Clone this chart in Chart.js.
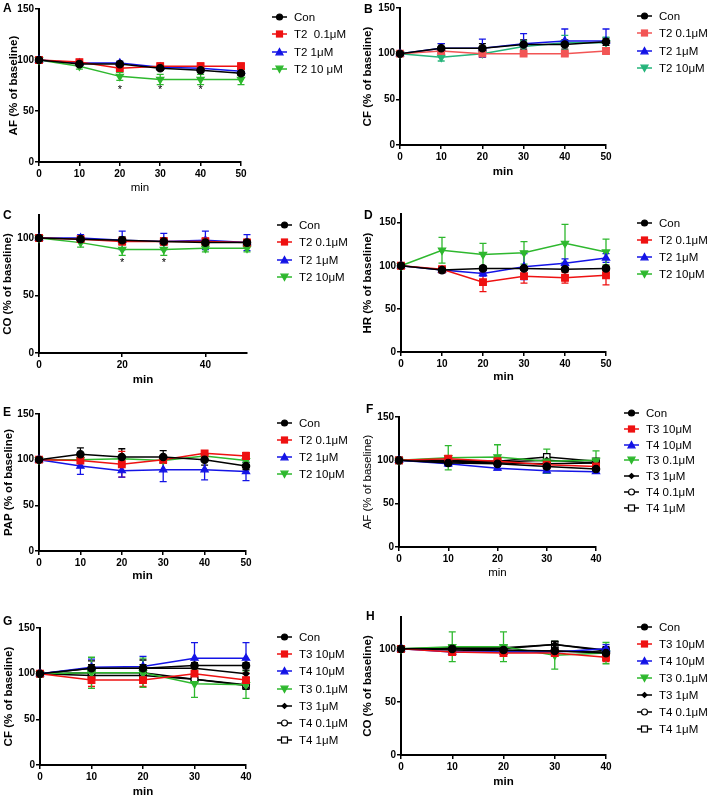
<!DOCTYPE html>
<html>
<head>
<meta charset="utf-8">
<script src="https://cdn.jsdelivr.net/npm/chart.js@4"></script>
<style>
  body { margin: 0; background: #fff; width: 708px; height: 797px; position: relative; overflow: hidden;
         font-family: "Liberation Sans", Arial, sans-serif; }
  canvas { position: absolute; }
  .tag { position: absolute; font-weight: bold; font-size: 12px; line-height: 12px; }
  .row { position: absolute; display: flex; align-items: center; height: 14px; font-size: 11.5px; white-space: pre; }
  .row svg { margin-right: 7px; }
</style>
</head>
<body>
<script>
// time points (min)
const minutes50 = [0, 10, 20, 30, 40, 50];
const minutes40 = [0, 10, 20, 30, 40];

// legend labels
const labelsT2a = ['Con', 'T2  0.1μM', 'T2 1μM', 'T2 10 μM'];
const labelsT2 = ['Con', 'T2 0.1μM', 'T2 1μM', 'T2 10μM'];
const labelsT34 = ['Con', 'T3 10μM', 'T4 10μM', 'T3 0.1μM', 'T3 1μM', 'T4 0.1μM', 'T4 1μM'];

// A - AF, T2
const afCon = [100, 96, 96, 92, 90, 87];
const afCon_err = [0, 2, 2, 2, 1.5, 2];
const afT2_01 = [100, 98, 92, 94, 94, 94];
const afT2_01_err = [0, 2, 4, 3, 3, 3];
const afT2_1 = [100, 97, 97, 93, 92, 89];
const afT2_1_err = [0, 2, 2, 2, 2, 2];
const afT2_10 = [100, 94, 84, 81, 81, 81];
const afT2_10_err = [0, 3, 4, 5, 5, 5];
const starsA = [20, 30, 40];

// B - CF, T2
const cfCon = [100, 106, 106, 110, 110, 113];
const cfCon_err = [0, 5, 5, 5, 5, 4];
const cfT2_01 = [100, 103, 100, 100, 100, 103];
const cfT2_01_err = [0, 2, 2, 2, 2, 3];
const cfT2_1 = [100, 106, 106, 111, 114, 114];
const cfT2_1_err = [0, 5, 10, 11, 13, 13];
const cfT2_10 = [100, 96, 100, 108, 112, 112];
const cfT2_10_err = [0, 4, 2, 6, 8, 6];

// C - CO, T2
const coCon = [100, 99, 98, 97, 96, 96];
const coCon_err = [0, 2, 3, 3, 2, 2];
const coT2_01 = [100, 99, 97, 97, 97, 96];
const coT2_01_err = [0, 2, 3, 3, 3, 3];
const coT2_1 = [100, 100, 98, 97, 98, 96];
const coT2_1_err = [0, 3, 8, 7, 8, 7];
const coT2_10 = [100, 96, 90, 90, 91, 91];
const coT2_10_err = [0, 4, 5, 5, 3, 3];
const starsC = [20, 30];

// D - HR, T2
const hrCon = [100, 95, 97, 97, 96, 97];
const hrCon_err = [0, 3, 2, 2, 2, 2];
const hrT2_01 = [100, 96, 81, 88, 86, 89];
const hrT2_01_err = [0, 3, 11, 8, 6, 11];
const hrT2_1 = [100, 95, 91, 99, 103, 109];
const hrT2_1_err = [0, 3, 3, 15, 5, 5];
const hrT2_10 = [100, 118, 113, 115, 126, 116];
const hrT2_10_err = [0, 15, 13, 13, 22, 15];

// E - PAP, T2
const papCon = [100, 106, 103, 103, 100, 93];
const papCon_err = [0, 7, 9, 7, 6, 4];
const papT2_01 = [100, 99, 95, 100, 107, 104];
const papT2_01_err = [0, 3, 14, 4, 3, 4];
const papT2_1 = [100, 93, 88, 89, 89, 87];
const papT2_1_err = [0, 9, 7, 13, 11, 10];
const papT2_10 = [100, 100, 101, 99, 104, 99];
const papT2_10_err = [0, 2, 2, 2, 2, 2];

// F - AF, T3/T4
const af2Con = [100, 97, 96, 93, 90];
const af2Con_err = [0, 3, 2, 3, 2];
const afT3_10 = [100, 102, 99, 95, 93];
const afT3_10_err = [0, 3, 2, 3, 3];
const afT4_10 = [100, 96, 91, 88, 87];
const afT4_10_err = [0, 3, 2, 3, 2];
const afT3_01 = [100, 103, 104, 99, 100];
const afT3_01_err = [0, 14, 14, 14, 11];
const afT3_1 = [100, 99, 98, 100, 97];
const afT3_1_err = [0, 3, 3, 3, 3];
const afT4_01 = [100, 98, 97, 96, 97];
const afT4_01_err = [0, 3, 3, 3, 3];
const afT4_1 = [100, 100, 99, 104, 99];
const afT4_1_err = [0, 3, 3, 3, 3];

// G - CF, T3/T4
const cf2Con = [100, 106, 106, 109, 109];
const cf2Con_err = [0, 8, 9, 3, 3];
const cfT3_10 = [100, 93, 93, 100, 93];
const cfT3_10_err = [0, 7, 7, 6, 8];
const cfT4_10 = [100, 107, 108, 117, 117];
const cfT4_10_err = [0, 9, 11, 17, 17];
const cfT3_01 = [100, 101, 101, 89, 88];
const cfT3_01_err = [0, 17, 16, 15, 15];
const cfT3_1 = [100, 106, 106, 106, 100];
const cfT3_1_err = [0, 4, 4, 4, 4];
const cfT4_01 = [100, 101, 101, 94, 88];
const cfT4_01_err = [0, 4, 4, 4, 4];
const cfT4_1 = [100, 98, 98, 94, 87];
const cfT4_1_err = [0, 4, 4, 4, 4];

// H - CO, T3/T4
const co2Con = [100, 100, 99, 98, 96];
const co2Con_err = [0, 2, 2, 2, 2];
const coT3_10 = [100, 97, 96, 96, 92];
const coT3_10_err = [0, 3, 3, 3, 4];
const coT4_10 = [100, 97, 97, 97, 100];
const coT4_10_err = [0, 3, 3, 3, 4];
const coT3_01 = [100, 102, 102, 94, 96];
const coT3_01_err = [0, 14, 14, 13, 10];
const coT3_1 = [100, 101, 101, 104, 99];
const coT3_1_err = [0, 3, 3, 3, 3];
const coT4_01 = [100, 99, 98, 98, 97];
const coT4_01_err = [0, 3, 3, 3, 3];
const coT4_1 = [100, 100, 100, 104, 98];
const coT4_1_err = [0, 3, 3, 3, 3];

// styles
const colorsT2 = ['#000000', '#ee1111', '#1414e6', '#2eb82e'];
const colorsB = ['#000000', '#f25555', '#1414e6', '#25b47a'];
const colorsT34 = ['#000000', '#ee1111', '#1414e6', '#2eb82e', '#000000', '#000000', '#000000'];
const markersT2 = ['circle', 'square', 'up', 'down'];
const markersT34 = ['circle', 'square', 'up', 'down', 'diamond', 'ocircle', 'osquare'];

const panels = [
  { tag: 'A', tagX: 3, tagY: 2, L: 39, T: 9, R: 241, B: 162, titleX: 14, minY: 188, yMax: 150, xs: minutes50, xStep: 10,
    yTitle: 'AF (% of baseline)', boldX: false, boldY: true, labels: labelsT2a, colors: colorsT2, markers: markersT2,
    values: [afCon, afT2_01, afT2_1, afT2_10], errors: [afCon_err, afT2_01_err, afT2_1_err, afT2_10_err],
    stars: starsA, starY: 71, legX: 272, legY: 17, legGap: 17.3 },
  { tag: 'B', tagX: 364, tagY: 3, L: 400, T: 8, R: 606, B: 145, titleX: 368, minY: 172, yMax: 150, xs: minutes50, xStep: 10,
    yTitle: 'CF (% of baseline)', boldX: true, boldY: true, labels: labelsT2, colors: colorsB, markers: markersT2,
    values: [cfCon, cfT2_01, cfT2_1, cfT2_10], errors: [cfCon_err, cfT2_01_err, cfT2_1_err, cfT2_10_err],
    stars: [], starY: 0, legX: 637, legY: 16, legGap: 17.3 },
  { tag: 'C', tagX: 3, tagY: 209, L: 39, T: 215, R: 247, B: 353, titleX: 8, minY: 380, yMax: 120, xs: minutes50, xStep: 20,
    yTitle: 'CO (% of baseline)', boldX: true, boldY: true, labels: labelsT2, colors: colorsT2, markers: markersT2,
    values: [coCon, coT2_01, coT2_1, coT2_10], errors: [coCon_err, coT2_01_err, coT2_1_err, coT2_10_err],
    stars: starsC, starY: 78, legX: 277, legY: 225, legGap: 17.3 },
  { tag: 'D', tagX: 364, tagY: 209, L: 401, T: 214, R: 606, B: 352, titleX: 368, minY: 377, yMax: 160, xs: minutes50, xStep: 10,
    yTitle: 'HR (% of baseline)', boldX: true, boldY: true, labels: labelsT2, colors: colorsT2, markers: markersT2,
    values: [hrCon, hrT2_01, hrT2_1, hrT2_10], errors: [hrCon_err, hrT2_01_err, hrT2_1_err, hrT2_10_err],
    stars: [], starY: 0, legX: 637, legY: 223, legGap: 17 },
  { tag: 'E', tagX: 3, tagY: 406, L: 39, T: 414, R: 246, B: 551, titleX: 9, minY: 576, yMax: 150, xs: minutes50, xStep: 10,
    yTitle: 'PAP (% of baseline)', boldX: true, boldY: true, labels: labelsT2, colors: colorsT2, markers: markersT2,
    values: [papCon, papT2_01, papT2_1, papT2_10], errors: [papCon_err, papT2_01_err, papT2_1_err, papT2_10_err],
    stars: [], starY: 0, legX: 277, legY: 423, legGap: 17 },
  { tag: 'F', tagX: 366, tagY: 403, L: 399, T: 417, R: 596, B: 547, titleX: 368, minY: 573, yMax: 150, xs: minutes40, xStep: 10,
    yTitle: 'AF (% of baseline)', boldX: false, boldY: false, labels: labelsT34, colors: colorsT34, markers: markersT34,
    values: [af2Con, afT3_10, afT4_10, afT3_01, afT3_1, afT4_01, afT4_1],
    errors: [af2Con_err, afT3_10_err, afT4_10_err, afT3_01_err, afT3_1_err, afT4_01_err, afT4_1_err],
    stars: [], starY: 0, legX: 624, legY: 413, legGap: 15.8 },
  { tag: 'G', tagX: 3, tagY: 615, L: 40, T: 628, R: 246, B: 765, titleX: 9, minY: 792, yMax: 150, xs: minutes40, xStep: 10,
    yTitle: 'CF (% of baseline)', boldX: true, boldY: true, labels: labelsT34, colors: colorsT34, markers: markersT34,
    values: [cf2Con, cfT3_10, cfT4_10, cfT3_01, cfT3_1, cfT4_01, cfT4_1],
    errors: [cf2Con_err, cfT3_10_err, cfT4_10_err, cfT3_01_err, cfT3_1_err, cfT4_01_err, cfT4_1_err],
    stars: [], starY: 0, legX: 277, legY: 637, legGap: 17.2 },
  { tag: 'H', tagX: 366, tagY: 610, L: 401, T: 617, R: 606, B: 755, titleX: 368, minY: 782, yMax: 130, xs: minutes40, xStep: 10,
    yTitle: 'CO (% of baseline)', boldX: true, boldY: true, labels: labelsT34, colors: colorsT34, markers: markersT34,
    values: [co2Con, coT3_10, coT4_10, coT3_01, coT3_1, coT4_01, coT4_1],
    errors: [co2Con_err, coT3_10_err, coT4_10_err, coT3_01_err, coT3_1_err, coT4_01_err, coT4_1_err],
    stars: [], starY: 0, legX: 637, legY: 627, legGap: 17 }
];

Chart.defaults.font.family = '"Liberation Sans", Arial, sans-serif';
Chart.defaults.color = '#000';

// vertical error bars, drawn from the y scale
const errorBars = {
  id: 'errorBars',
  beforeDatasetsDraw(chart) {
    const ctx = chart.ctx, ys = chart.scales.y;
    chart.data.datasets.forEach((ds, i) => {
      const meta = chart.getDatasetMeta(i);
      ctx.save();
      ctx.strokeStyle = ds.borderColor;
      ctx.lineWidth = 1.3;
      meta.data.forEach((pt, j) => {
        const e = ds.errors[j];
        if (!e) return;
        const v = ds.data[j].y;
        const y1 = ys.getPixelForValue(v + e), y2 = ys.getPixelForValue(v - e);
        ctx.beginPath();
        ctx.moveTo(pt.x, y1); ctx.lineTo(pt.x, y2);
        ctx.moveTo(pt.x - 3.5, y1); ctx.lineTo(pt.x + 3.5, y1);
        ctx.moveTo(pt.x - 3.5, y2); ctx.lineTo(pt.x + 3.5, y2);
        ctx.stroke();
      });
      ctx.restore();
    });
  }
};

const starMarks = {
  id: 'starMarks',
  afterDatasetsDraw(chart, args, opts) {
    const ctx = chart.ctx;
    ctx.save();
    ctx.font = '11px "Liberation Sans", Arial';
    ctx.fillStyle = '#000';
    ctx.textAlign = 'center';
    ctx.textBaseline = 'middle';
    opts.xs.forEach(x => ctx.fillText('*', chart.scales.x.getPixelForValue(x), chart.scales.y.getPixelForValue(opts.y)));
    ctx.restore();
  }
};

function markerOpts(m, color) {
  switch (m) {
    case 'circle': return { pointStyle: 'circle', pointRadius: 3.7, pointBackgroundColor: color };
    case 'square': return { pointStyle: 'rect', pointRadius: 4.7, pointBackgroundColor: color };
    case 'up': return { pointStyle: 'triangle', pointRadius: 4.2, pointBackgroundColor: color };
    case 'down': return { pointStyle: 'triangle', pointRadius: 4.2, pointRotation: 180, pointBackgroundColor: color };
    case 'diamond': return { pointStyle: 'rectRot', pointRadius: 3, pointBackgroundColor: color };
    case 'ocircle': return { pointStyle: 'circle', pointRadius: 3.5, pointBackgroundColor: '#fff' };
    case 'osquare': return { pointStyle: 'rect', pointRadius: 4.5, pointBackgroundColor: '#fff' };
  }
}

function icon(m, color) {
  const c = 'fill="' + (m[0] === 'o' ? '#fff' : color) + '" stroke="' + color + '" stroke-width="1.2"';
  let shape;
  if (m === 'circle' || m === 'ocircle') shape = `<circle cx="7.5" cy="5" r="3" ${c}/>`;
  else if (m === 'square' || m === 'osquare') shape = `<rect x="4.5" y="2" width="6" height="6" ${c}/>`;
  else if (m === 'up') shape = `<polygon points="7.5,1.5 11,7.8 4,7.8" ${c}/>`;
  else if (m === 'down') shape = `<polygon points="7.5,8.5 11,2.2 4,2.2" ${c}/>`;
  else shape = `<polygon points="7.5,2.5 10,5 7.5,7.5 5,5" ${c}/>`;
  return `<svg width="15" height="10"><line x1="0" y1="5" x2="15" y2="5" stroke="${color}" stroke-width="1.5"/>${shape}</svg>`;
}

const padTop = 10, padRight = 14;

panels.forEach(p => {
  const left = Math.round(p.titleX - 6.9);
  const xAxisH = p.minY + 6.9 - p.B;
  const cv = document.createElement('canvas');
  const w = p.R - left + padRight, h = Math.ceil(p.B - p.T + padTop + xAxisH);
  cv.width = w; cv.height = h;
  cv.style.left = left + 'px';
  cv.style.top = (p.T - padTop) + 'px';
  cv.style.width = w + 'px'; cv.style.height = h + 'px';
  document.body.appendChild(cv);

  const tickFont = { size: 10, weight: 'bold' };
  const datasets = p.values.map((vals, i) => Object.assign({
    label: p.labels[i],
    data: p.xs.map((x, j) => ({ x: x, y: vals[j] })),
    errors: p.errors[i],
    borderColor: p.colors[i],
    pointBorderColor: p.colors[i],
    borderWidth: 1.5,
    pointBorderWidth: 1.2,
    tension: 0,
    clip: false
  }, markerOpts(p.markers[i], p.colors[i])));

  new Chart(cv, {
    type: 'line',
    data: { datasets: datasets },
    options: {
      animation: false,
      responsive: false,
      devicePixelRatio: 1,
      layout: { padding: { top: padTop, right: padRight, left: 0, bottom: 0 } },
      plugins: {
        legend: { display: false },
        tooltip: { enabled: false },
        starMarks: { xs: p.stars, y: p.starY }
      },
      scales: {
        x: {
          type: 'linear', min: 0, max: p.xs[p.xs.length - 1],
          ticks: { stepSize: p.xStep, includeBounds: false, font: tickFont, padding: 2, maxRotation: 0 },
          grid: { drawOnChartArea: false, tickLength: 4, color: '#000', lineWidth: 1.5 },
          border: { color: '#000', width: 2 },
          title: { display: true, text: 'min', font: { size: 11.5, weight: p.boldX ? 'bold' : 'normal' }, padding: 0 },
          afterFit(s) { s.height = xAxisH; }
        },
        y: {
          min: 0, max: p.yMax,
          ticks: { stepSize: 50, includeBounds: false, font: tickFont, padding: 1 },
          grid: { drawOnChartArea: false, tickLength: 4, color: '#000', lineWidth: 1.5 },
          border: { color: '#000', width: 2 },
          title: { display: true, text: p.yTitle, font: { size: 11.5, weight: p.boldY ? 'bold' : 'normal' }, padding: 0 },
          afterFit(s) { s.width = p.L - left; }
        }
      }
    },
    plugins: [errorBars, starMarks]
  });

  const tag = document.createElement('div');
  tag.className = 'tag';
  tag.textContent = p.tag;
  tag.style.left = p.tagX + 'px';
  tag.style.top = p.tagY + 'px';
  document.body.appendChild(tag);

  p.labels.forEach((lab, i) => {
    const row = document.createElement('div');
    row.className = 'row';
    row.style.left = p.legX + 'px';
    row.style.top = (p.legY + i * p.legGap - 7) + 'px';
    row.innerHTML = icon(p.markers[i], p.colors[i]) + '<span></span>';
    row.querySelector('span').textContent = lab;
    document.body.appendChild(row);
  });
});
</script>
</body>
</html>
